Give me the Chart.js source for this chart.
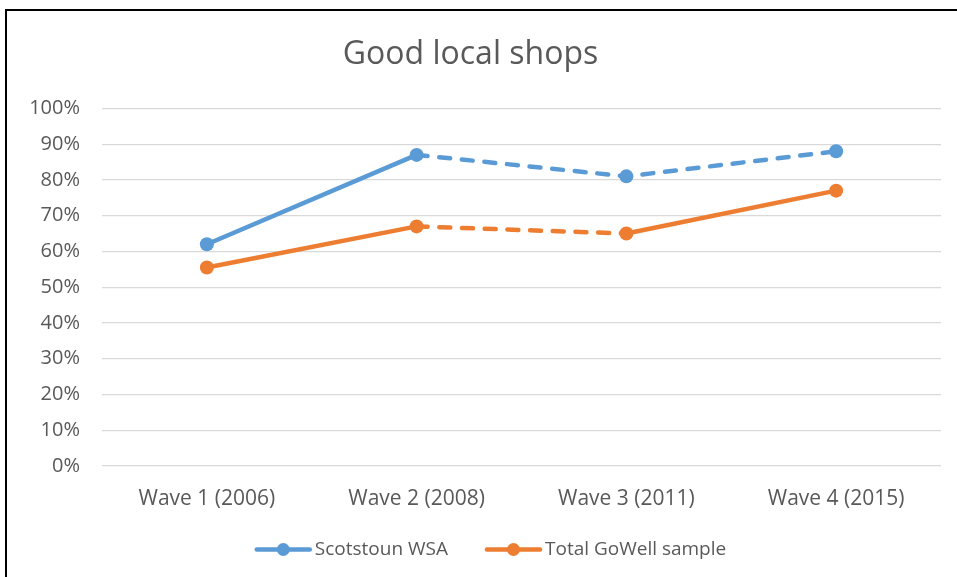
<!DOCTYPE html>
<html>
<head>
<meta charset="utf-8">
<script src="https://cdn.jsdelivr.net/npm/chart.js@4/dist/chart.umd.min.js"></script>
<style>
  html, body { margin: 0; padding: 0; background: #fff; overflow: hidden; }
  #wrap { position: relative; width: 957px; height: 577px; }
  #frame { position: absolute; left: 5px; top: 9px; width: 1000px; height: 1000px;
           border: 2px solid #000; pointer-events: none; }
</style>
</head>
<body>
<div id="wrap">
  <canvas id="chart" width="957" height="577"></canvas>
  <div id="frame"></div>
</div>
<script>
const waves = ["Wave 1 (2006)", "Wave 2 (2008)", "Wave 3 (2011)", "Wave 4 (2015)"];
const scotstoun = [62, 87, 81, 88];
const gowell = [55.5, 67, 65, 77];
// segment i runs from point i to point i+1
const scotstounDashed = [false, true, true];
const gowellDashed = [false, true, false];

const BLUE = "#5B9BD5";
const ORANGE = "#ED7D31";
const TEXT = "#595959";
const FONT = "'Open Sans', 'Liberation Sans', sans-serif";
const LEGEND_LINE = 57;

function dashFor(flags) {
  return ctx => flags[ctx.p0DataIndex] ? [11, 11.7] : undefined;
}

// legend: move it a little, then draw line + marker for each entry
const legendMarkers = {
  id: "legendMarkers",
  afterLayout(chart) {
    const lg = chart.legend;
    lg.left += 20; lg.right += 20;
    lg.top -= 8; lg.bottom -= 8;
  },
  afterDraw(chart) {
    const legend = chart.legend;
    if (!legend || !legend.legendHitBoxes) return;
    const c = chart.ctx;
    legend.legendHitBoxes.forEach((box, i) => {
      const ds = chart.data.datasets[i];
      const cy = box.top + box.height / 2;
      c.save();
      c.strokeStyle = ds.borderColor;
      c.lineWidth = 4.5;
      c.lineCap = "round";
      c.beginPath();
      c.moveTo(box.left + 2, cy);
      c.lineTo(box.left + LEGEND_LINE - 2, cy);
      c.stroke();
      c.fillStyle = ds.borderColor;
      c.beginPath();
      c.arc(box.left + LEGEND_LINE / 2, cy, 6.5, 0, Math.PI * 2);
      c.fill();
      c.restore();
    });
  }
};

new Chart(document.getElementById("chart"), {
  type: "line",
  data: {
    labels: waves,
    datasets: [
      {
        label: "Scotstoun WSA",
        data: scotstoun,
        borderColor: BLUE,
        backgroundColor: BLUE,
        borderWidth: 4.5,
        borderCapStyle: "round",
        pointRadius: 7,
        pointHoverRadius: 7,
        pointBorderWidth: 0,
        segment: { borderDash: dashFor(scotstounDashed) }
      },
      {
        label: "Total GoWell sample",
        data: gowell,
        borderColor: ORANGE,
        backgroundColor: ORANGE,
        borderWidth: 4.5,
        borderCapStyle: "round",
        pointRadius: 7,
        pointHoverRadius: 7,
        pointBorderWidth: 0,
        segment: { borderDash: dashFor(gowellDashed) }
      }
    ]
  },
  options: {
    responsive: false,
    animation: false,
    layout: { padding: { left: 0, right: 16, top: 0, bottom: 0 } },
    plugins: {
      title: {
        display: true,
        text: "Good local shops",
        color: TEXT,
        font: { family: FONT, size: 32, weight: "normal" },
        padding: { top: 36, bottom: 34 }
      },
      legend: {
        position: "bottom",
        labels: {
          color: TEXT,
          font: { family: FONT, size: 19 },
          boxWidth: LEGEND_LINE - 6.5,
          boxHeight: 4,
          padding: 37,
          generateLabels: chart => Chart.defaults.plugins.legend.labels.generateLabels(chart).map(l => {
            l.fillStyle = "rgba(0,0,0,0)";
            l.strokeStyle = "rgba(0,0,0,0)";
            l.lineWidth = 0;
            return l;
          })
        }
      },
      tooltip: { enabled: false }
    },
    scales: {
      x: {
        offset: true,
        grid: { display: false },
        border: { display: false },
        ticks: { color: TEXT, font: { family: FONT, size: 21 }, padding: 12 },
        afterFit: s => { s.height = 45; }
      },
      y: {
        min: 0,
        max: 100,
        grid: { color: "#D9D9D9", lineWidth: 1.3, drawTicks: false },
        border: { display: false },
        ticks: {
          stepSize: 10,
          color: TEXT,
          font: { family: FONT, size: 20 },
          padding: 22,
          callback: v => v + "%"
        },
        afterFit: s => { s.width = 102; }
      }
    }
  },
  plugins: [legendMarkers]
});
</script>
</body>
</html>
